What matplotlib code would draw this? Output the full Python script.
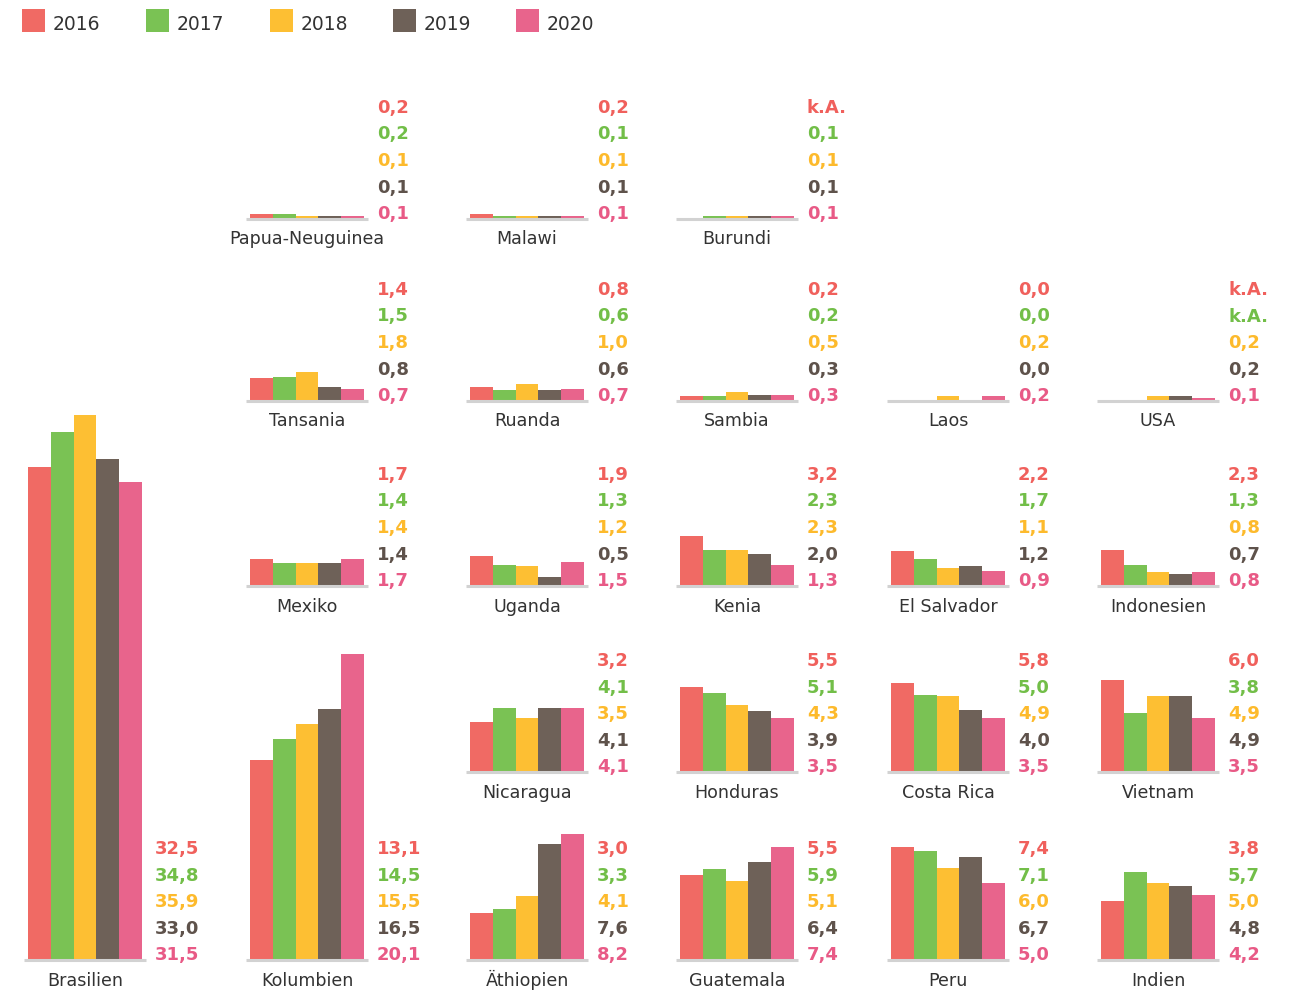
import numpy as np
import matplotlib
matplotlib.use("Agg")
import matplotlib.pyplot as plt
from matplotlib.patches import Rectangle
from matplotlib.lines import Line2D

# ---------------- data ----------------
years = ["2016", "2017", "2018", "2019", "2020"]
countries = ["Papua-Neuguinea", "Malawi", "Burundi",
             "Tansania", "Ruanda", "Sambia", "Laos", "USA",
             "Mexiko", "Uganda", "Kenia", "El Salvador", "Indonesien",
             "Nicaragua", "Honduras", "Costa Rica", "Vietnam",
             "Brasilien", "Kolumbien", "Äthiopien", "Guatemala", "Peru", "Indien"]
nan = np.nan
v2016 = [0.2, 0.2, nan, 1.4, 0.8, 0.2, 0.0, nan, 1.7, 1.9, 3.2, 2.2, 2.3,
         3.2, 5.5, 5.8, 6.0, 32.5, 13.1, 3.0, 5.5, 7.4, 3.8]
v2017 = [0.2, 0.1, 0.1, 1.5, 0.6, 0.2, 0.0, nan, 1.4, 1.3, 2.3, 1.7, 1.3,
         4.1, 5.1, 5.0, 3.8, 34.8, 14.5, 3.3, 5.9, 7.1, 5.7]
v2018 = [0.1, 0.1, 0.1, 1.8, 1.0, 0.5, 0.2, 0.2, 1.4, 1.2, 2.3, 1.1, 0.8,
         3.5, 4.3, 4.9, 4.9, 35.9, 15.5, 4.1, 5.1, 6.0, 5.0]
v2019 = [0.1, 0.1, 0.1, 0.8, 0.6, 0.3, 0.0, 0.2, 1.4, 0.5, 2.0, 1.2, 0.7,
         4.1, 3.9, 4.0, 4.9, 33.0, 16.5, 7.6, 6.4, 6.7, 4.8]
v2020 = [0.1, 0.1, 0.1, 0.7, 0.7, 0.3, 0.2, 0.1, 1.7, 1.5, 1.3, 0.9, 0.8,
         4.1, 3.5, 3.5, 3.5, 31.5, 20.1, 8.2, 7.4, 5.0, 4.2]
series = [v2016, v2017, v2018, v2019, v2020]

colors = ["#F06A64", "#7AC254", "#FDBF33", "#6E6158", "#E8648C"]
text_colors = ["#F0605C", "#72BE48", "#FDBA2C", "#5E524B", "#E85A86"]

# ---------------- layout (pixels) ----------------
W, H = 1298, 991
fig = plt.figure(figsize=(W / 100, H / 100), dpi=100)

# (row, col) of each country
grid = [(0, 1), (0, 2), (0, 3),
        (1, 1), (1, 2), (1, 3), (1, 4), (1, 5),
        (2, 1), (2, 2), (2, 3), (2, 4), (2, 5),
        (3, 2), (3, 3), (3, 4), (3, 5),
        (4, 0), (4, 1), (4, 2), (4, 3), (4, 4), (4, 5)]
col_x = [28, 250, 470, 680, 891, 1101]
row_base = [217.5, 399.5, 584.5, 770.5, 958.5]
group_w = 114.0
px_per_unit = 15.13
ax_h = 600.0

def fx(x):
    return x / W

def fy(y):
    return 1 - y / H

def fmt(v):
    if np.isnan(v):
        return "k.A."
    return f"{v:.1f}".replace(".", ",")

for i, name in enumerate(countries):
    r, c = grid[i]
    x0 = col_x[c]
    base = row_base[r]
    vals = np.array([s[i] for s in series], dtype=float)
    ax = fig.add_axes([fx(x0), fy(base), group_w / W, ax_h / H])
    ax.set_xlim(0, 5)
    ax.set_ylim(0, ax_h / px_per_unit)
    ax.axis("off")
    ax.patch.set_alpha(0)
    ax.bar(np.arange(5), np.nan_to_num(vals), width=1.0, align="edge",
           color=colors, linewidth=0, zorder=3)
    # baseline
    fig.add_artist(Line2D([fx(x0 - 4), fx(x0 + group_w + 4)],
                          [fy(base + 1.5), fy(base + 1.5)],
                          color="#D2D2D2", linewidth=2.2,
                          solid_capstyle="butt", zorder=1))
    # country label
    fig.text(fx(x0 + group_w / 2), fy(base + 27), name, ha="center",
             va="baseline", fontsize=12.6, color="#333333",
             family="DejaVu Sans")
    # value labels
    for k in range(5):
        yb = base + 1.8 - (4 - k) * 26.6
        fig.text(fx(x0 + 127), fy(yb), fmt(vals[k]), ha="left",
                 va="baseline", fontsize=13, fontweight="bold",
                 color=text_colors[k], family="DejaVu Sans")

# ---------------- legend ----------------
leg_x = [22, 146, 270, 393, 516]
for k, yr in enumerate(years):
    fig.add_artist(Rectangle((fx(leg_x[k]), fy(32)), 23 / W, 23 / H,
                             transform=fig.transFigure, color=colors[k],
                             linewidth=0))
    fig.text(fx(leg_x[k] + 31), fy(29.5), yr, ha="left", va="baseline",
             fontsize=13.5, color="#333333", family="DejaVu Sans")

fig.savefig("out.png", dpi=100)
